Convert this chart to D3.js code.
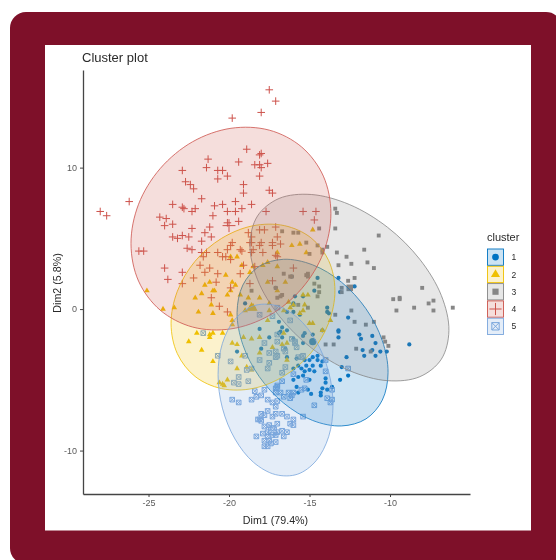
<!doctype html>
<meta charset="utf-8">
<style>
html, body { margin: 0; padding: 0; background: #fff; overflow: hidden; }
text { font-family: "Liberation Sans", Arial, sans-serif; }
</style>
<script src="https://d3js.org/d3.v7.min.js"></script>
<body>
<script>

var w = 556, h = 560;

var clusters = ["1", "2", "3", "4", "5"];
var colors = ["#0073C2", "#EFC000", "#868686", "#CD534C", "#7AA6DC"];
var xTicks = [-25, -20, -15, -10];
var yTicks = [-10, 0, 10];

// points, [Dim1, Dim2]
var points1 = [[-14.5,2.2],[-13.2,2.2],[-12.2,1.6],[-13.1,1.2],[-14.7,1.3],[-15.4,0.9],[-16,0.3],[-13.9,0.1],[-13.9,-0.2],[-13.8,-0.3],[-12.6,-0.6],[-13.2,-1.5],[-13.2,-1.6],[-13.2,-2],[-14.2,-1.5],[-11.9,-1.8],[-11.8,-2.1],[-11.1,-1.9],[-10.9,-2.4],[-8.8,-2.5],[-11.7,-2.9],[-11.1,-2.9],[-10.6,-3],[-10.2,-3],[-11.6,-3.3],[-10.9,-3.3],[-12.7,-3.4],[-15.3,-1.7],[-14.8,-1.8],[-15.4,-1.9],[-16,-2.1],[-16.4,-1.5],[-16.8,-1.6],[-16.7,-2],[-18.1,-1.4],[-17.5,-2],[-18,-2.8],[-15.4,-2.4],[-16.5,-2.8],[-13.1,-5],[-12.6,-4.7],[-13,-4.1],[-16.4,-0.2],[-16,-0.2],[-15.6,-0.4],[-16.9,-0.9],[-17.1,1.5],[-16.1,2.3],[-15.9,0.9],[-14.8,-3.4],[-15,-3.6],[-14.5,-3.6],[-15.2,-4],[-14.8,-4],[-14.3,-4],[-15.5,-4.2],[-15.3,-4.4],[-15.4,-4.7],[-15,-4.3],[-14.7,-4.4],[-15.7,-4],[-16,-4.2],[-15.7,-4.8],[-16,-5],[-15,-5],[-14,-4.9],[-14,-5.2],[-13.6,-5.5],[-14.2,-5.6],[-14.3,-5.9],[-13.9,-5.7],[-14.3,-6.1],[-14.9,-6],[-15.1,-5.7],[-15.7,-5.9],[-15.8,-5.5],[-15.3,-3.6],[-14.2,-3.7],[-14.5,-3.3],[-19.5,-3],[-19,0.4],[-16.9,-1.7],[-16.7,-1.3],[-16,0.4],[-16.4,-3.4],[-15.8,-3.5]];
var points2 = [[-16.1,4.5],[-15.6,4.6],[-14.8,5.6],[-19.9,3.7],[-19.5,3.7],[-20.2,2.4],[-19.2,3.1],[-18.7,2.6],[-19.8,1.9],[-19.6,1.7],[-21.2,1.9],[-21.5,1.7],[-20.9,1.3],[-21,1.3],[-21.7,1.1],[-22.1,0.8],[-19.9,1.3],[-19.3,1],[-20.1,1],[-18.8,0.8],[-21.1,0.3],[-21.9,-0.2],[-21,-0.3],[-19.9,-0.4],[-18.5,0.2],[-18.7,0],[-18.4,0],[-19,-0.1],[-23.4,0.1],[-24.1,0],[-17.6,3.3],[-17.9,3.1],[-17,3],[-17.6,1.9],[-17,1.3],[-16.5,1.9],[-17.5,0.4],[-16.2,0.1],[-15.4,-0.1],[-16.6,-0.1],[-18.1,0.8],[-18.5,3],[-15.2,4],[-17,4],[-19.8,-0.8],[-19.8,-1.1],[-15.4,1],[-15.1,1],[-16.3,0.5],[-16,0.3],[-14.8,-1],[-13.7,-0.8],[-14.2,-1.5],[-15.3,0.3],[-21.7,-2.9],[-21,-3.7],[-22.5,-2.3],[-22,-1.7],[-21.2,-1.8],[-21,-1.7],[-20.4,-1.7],[-21.2,-2],[-19.5,-4.2],[-20.1,-5],[-20.4,-5.3],[-20.6,-5.2],[-20.3,-5.4],[-19.8,-2.4],[-19.1,-2],[-18.6,-2.1],[-18.1,-2],[-18.1,-3.1],[-16.7,-2.5],[-16.4,-2.4],[-17.3,-2.7],[-18.9,-4.1],[-18.6,-4.3],[-17.6,-0.8],[-16.6,-1.7],[-15,-1],[-17.5,-0.1],[-15.6,-0.3],[-19.2,-3.3],[-16.4,-3.6],[-19.5,-2.5],[-25.1,1.3]];
var points3 = [[-13.4,7.1],[-13.3,6.8],[-13.4,5.7],[-14.4,5.7],[-10.7,5.2],[-11.6,4.2],[-12.7,3.7],[-13.3,4],[-12.4,3.2],[-11.4,3.3],[-13.2,3.1],[-11,2.9],[-13.9,4.4],[-14.5,4.5],[-14.2,4.2],[-15,3.9],[-15.2,4.7],[-16,5.4],[-15.7,5.4],[-16.7,5.5],[-14.2,4],[-8,1.5],[-9.8,0.7],[-9.4,0.8],[-9.4,0.7],[-9.6,-0.1],[-8.5,0.1],[-7.3,0.6],[-7.6,0.4],[-7.3,-0.1],[-6.1,0.1],[-12.6,2],[-12.2,2.2],[-13,1.5],[-13,1.2],[-14.4,1.6],[-14.7,1.8],[-14.4,1.2],[-14.5,0.9],[-15.1,0.1],[-15.7,0.3],[-12.4,-0.1],[-13.4,-0.4],[-12.2,-0.9],[-11.5,-1.1],[-11,-0.9],[-14,-2.5],[-13.5,-2.5],[-12.1,-2.8],[-11.2,-3],[-10.4,-2],[-10.3,-2.3],[-10.1,-2.6],[-15.1,2.5],[-15.1,2.3],[-16.1,2.3],[-17.1,1.5],[-16.7,1],[-17,0.8],[-16.8,0.9],[-16.6,2.5],[-15.2,2.4],[-16.2,2.3],[-18.6,1.3]];
var points4 = [[-17.5,15.5],[-17.1,14.7],[-18,13.9],[-19.8,13.5],[-18.9,11.3],[-18,11],[-18.1,10.9],[-21.3,10.6],[-19.4,10.4],[-22.9,9.8],[-21.4,10],[-18.4,10.2],[-18.1,10.2],[-18,10],[-17.6,10.3],[-20.4,9.8],[-20.7,9.8],[-20.1,9.4],[-20.7,9.2],[-18.1,9.4],[-22.7,9],[-22.4,8.8],[-22.2,8.5],[-19.1,8.8],[-19.1,8.2],[-17.5,8.4],[-17.3,8.2],[-21.7,7.8],[-19.6,7.6],[-26.2,7.6],[-28,6.9],[-27.6,6.6],[-23.5,7.4],[-22.9,7.2],[-22.8,7.1],[-22.1,7.1],[-22.3,6.9],[-20.9,7.3],[-20.4,7.4],[-20.1,6.9],[-19.6,6.9],[-19.2,7.1],[-18.6,7.4],[-17.7,6.9],[-21,6.6],[-24.3,6.5],[-23.9,6.4],[-24,5.9],[-23.5,6],[-20.1,6.1],[-19.4,6.2],[-22.3,5.7],[-21.2,5.8],[-21.5,5.4],[-23.5,5.1],[-23.2,5],[-22.9,5.2],[-22.5,5.1],[-21.1,5.1],[-21.7,4.8],[-22.6,4.3],[-22.3,4.2],[-25.6,4.1],[-25.3,4.1],[-21.7,4],[-21.4,4],[-20.7,4],[-19.8,4.7],[-20.1,4.2],[-19.2,4.1],[-18.6,4.7],[-18.1,5.6],[-17.8,5.6],[-18.8,5.4],[-20.4,3.7],[-19.9,3.5],[-21.6,3.7],[-21.8,3.1],[-24,2.9],[-22.9,2.6],[-23.8,2.1],[-21.5,2.6],[-21.2,2.9],[-20.7,2.5],[-22.2,2.2],[-19.1,3.1],[-18.5,4.2],[-18.6,5.1],[-18,4.7],[-17.3,4.5],[-17.9,4],[-17,3.7],[-15.4,6.9],[-14.6,6.9],[-14.7,6.3],[-17.1,5.8],[-17,5.1],[-17.3,4.7],[-16.8,4.6],[-18.7,4.7],[-18.1,4.5],[-18.6,4],[-17.1,3.8],[-19.3,4.2],[-20.2,3.7],[-19.9,4.5],[-16,2.9],[-19.3,2.5],[-18.4,3],[-17.3,2],[-18.7,1.8],[-22.9,1.8],[-19.9,1.5],[-20.8,1.9],[-21.1,0.8],[-20.6,0.2],[-20.1,-0.2]];
var points5 = [[-21.6,-1.7],[-20.7,-3.3],[-19.9,-3.7],[-18.9,-4.3],[-18.6,-4.2],[-19.4,-4.8],[-19.7,-5.2],[-19.4,-5.3],[-18.8,-5.1],[-19.8,-6.4],[-19.4,-6.6],[-18.6,-6.4],[-18.3,-6.2],[-18,-6.1],[-18.4,-5.8],[-17.8,-5.7],[-17.6,-6.4],[-17.1,-5.6],[-17,-5.5],[-17.1,-5.9],[-16.8,-5.9],[-16.7,-5.1],[-17,-5.4],[-16.6,-6.2],[-16.3,-5.9],[-16.1,-6.1],[-16,-5.9],[-16.2,-6.3],[-16,-4.6],[-15.2,-5],[-15.3,-5.6],[-15.5,-5.7],[-13.6,-5.7],[-13.9,-6.3],[-13.6,-6.4],[-13.7,-6.6],[-14.7,-6.8],[-15.4,-7.6],[-17.1,-6.9],[-17.3,-6.6],[-17,-6.5],[-17.6,-7.2],[-18,-7.4],[-17.1,-7.4],[-17.8,-7.5],[-18.1,-7.8],[-18.2,-7.8],[-17.3,-7.6],[-16.7,-7.4],[-16.4,-7.6],[-16,-7.8],[-16.2,-8.1],[-16,-8.2],[-18,-7.9],[-18.3,-9],[-17.8,-8.3],[-17.5,-8.2],[-17,-8.1],[-17.6,-8.7],[-17.3,-8.4],[-17,-8.7],[-16.7,-8.6],[-16.4,-8.7],[-16.6,-9],[-17.9,-8.8],[-17.6,-9],[-17.3,-8.9],[-17.1,-8.9],[-17.8,-9.3],[-17.5,-9.3],[-17.1,-9.4],[-17.8,-9.7],[-17.6,-9.7],[-17.4,-9.5],[-18.1,-0.4],[-19,-3.3],[-18.1,-3.6],[-17.6,-4.2],[-17.5,-3.1],[-17.1,-3],[-17,-3.3],[-17,-2.3],[-17.8,-2.4],[-16.6,-2.8],[-16.5,-3],[-16.1,-2.1],[-15.9,-2.3],[-15.8,-2.7],[-15.7,-3.4],[-15.4,-3.3],[-16.5,-4.1],[-16.7,-4.5],[-17.5,-3.8],[-17.1,-3.4],[-12.6,-4.2],[-14,-3.6],[-14,-4.4],[-15.5,-3.4],[-17,-1.8],[-15.9,-2.4],[-17,0.1],[-17.3,-0.5],[-16.2,-0.8]];

// larger cluster centres
var centers = [[-14.8,-2.3],[-18.6,0.1],[-12.5,1.5],[-20,5.9],[-17.3,-8.6]];

// ellipse outlines
var hull1 = [[-10.12,-4.49],[-10.48,-2.22],[-11.49,0.02],[-13.01,1.9],[-14.81,3.13],[-16.61,3.52],[-18.13,3.02],[-19.14,1.7],[-19.5,-0.25],[-19.14,-2.52],[-18.13,-4.76],[-16.61,-6.64],[-14.81,-7.87],[-13.01,-8.26],[-11.49,-7.76],[-10.48,-6.44]];
var hull2 = [[-13.42,1.31],[-13.81,3.43],[-14.91,5.04],[-16.56,5.9],[-18.51,5.89],[-20.46,5],[-22.11,3.38],[-23.21,1.26],[-23.6,-1.03],[-23.21,-3.15],[-22.11,-4.76],[-20.46,-5.62],[-18.51,-5.61],[-16.56,-4.72],[-14.91,-3.1],[-13.81,-0.98]];
var hull3 = [[-6.34,-1.52],[-6.81,0.96],[-8.15,3.52],[-10.15,5.78],[-12.52,7.39],[-14.89,8.1],[-16.89,7.82],[-18.23,6.58],[-18.7,4.56],[-18.23,2.08],[-16.89,-0.48],[-14.89,-2.74],[-12.52,-4.35],[-10.15,-5.06],[-8.15,-4.78],[-6.81,-3.54]];
var hull4 = [[-13.67,6.77],[-14.14,9.4],[-15.49,11.46],[-17.5,12.65],[-19.88,12.78],[-22.26,11.83],[-24.27,9.94],[-25.62,7.41],[-26.09,4.62],[-25.62,1.98],[-24.27,-0.08],[-22.26,-1.27],[-19.88,-1.4],[-17.5,-0.45],[-15.49,1.44],[-14.14,3.97]];
var hull5 = [[-13.54,-6.81],[-13.81,-4.44],[-14.59,-2.26],[-15.74,-0.61],[-17.11,0.26],[-18.48,0.23],[-19.63,-0.72],[-20.41,-2.42],[-20.68,-4.63],[-20.41,-7],[-19.63,-9.18],[-18.48,-10.83],[-17.11,-11.7],[-15.74,-11.67],[-14.59,-10.72],[-13.81,-9.02]];

var allPoints = [points1, points2, points3, points4, points5];
var allHulls = [hull1, hull2, hull3, hull4, hull5];

var svg = d3.select("body")
  .append("svg")
    .attr("width", w)
    .attr("height", h)
    .style("display", "block");

// the reference is a soft upscaled screenshot
svg.append("defs").append("filter")
    .attr("id", "soft")
    .attr("filterUnits", "userSpaceOnUse")
    .attr("x", 0).attr("y", 0).attr("width", w).attr("height", h)
  .append("feGaussianBlur")
    .attr("stdDeviation", 0.5);

// card
svg.append("rect")
    .attr("x", 10).attr("y", 12)
    .attr("width", 552).attr("height", 552)
    .attr("rx", 16)
    .style("fill", "#7e1029");
svg.append("rect")
    .attr("x", 45).attr("y", 45)
    .attr("width", 486).attr("height", 485.5)
    .style("fill", "#fff");

var chart = svg.append("g").attr("filter", "url(#soft)");

var x = d3.scaleLinear().domain([-29.07, -5.03]).range([83, 470]);
var y = d3.scaleLinear().domain([-13.07, 16.9]).range([494, 70]);

var symbols = [d3.symbolCircle, d3.symbolTriangle, d3.symbolSquare];

// draw one marker in its cluster style
function marker(sel, i, scale) {
  var c = colors[i];
  if (i < 3) {
    var area = [14, 14, 15][i] * scale * scale;
    sel.append("path")
        .attr("d", d3.symbol().type(symbols[i]).size(area))
        .style("fill", c);
  } else if (i == 3) {
    var s = 3.8 * scale;
    sel.append("path")
        .attr("d", "M" + -s + ",0H" + s + "M0," + -s + "V" + s)
        .style("fill", "none")
        .style("stroke", c)
        .style("stroke-width", 1);
  } else {
    var s = 2.3 * scale;
    sel.append("path")
        .attr("d", "M" + -s + "," + -s + "H" + s + "V" + s + "H" + -s + "Z"
          + "M" + -s + "," + -s + "L" + s + "," + s + "M" + s + "," + -s + "L" + -s + "," + s)
        .style("fill", "none")
        .style("stroke", c)
        .style("stroke-width", 1);
  }
}

// points first, the ellipses sit on top of them
allPoints.forEach(function(pts, i) {
  var g = chart.append("g");
  g.selectAll("g")
      .data(pts)
    .enter().append("g")
      .attr("transform", function(d) { return "translate(" + x(d[0]) + "," + y(d[1]) + ")"; })
      .each(function() { marker(d3.select(this), i, 1); });
  g.append("g")
      .attr("transform", "translate(" + x(centers[i][0]) + "," + y(centers[i][1]) + ")")
      .call(marker, i, 1.7);
});

var hullLine = d3.line()
    .x(function(d) { return x(d[0]); })
    .y(function(d) { return y(d[1]); })
    .curve(d3.curveCatmullRomClosed);

chart.selectAll(".hull")
    .data(allHulls)
  .enter().append("path")
    .attr("class", "hull")
    .attr("d", hullLine)
    .style("fill", function(d, i) { return colors[i]; })
    .style("fill-opacity", 0.2)
    .style("stroke", function(d, i) { return colors[i]; })
    .style("stroke-width", 0.8);

// axes, hyphen not the unicode minus
var xAxis = chart.append("g")
    .attr("transform", "translate(0,494)")
    .call(d3.axisBottom(x).tickValues(xTicks).tickFormat(String).tickSize(3).tickPadding(3).tickSizeOuter(0));
var yAxis = chart.append("g")
    .attr("transform", "translate(83,0)")
    .call(d3.axisLeft(y).tickValues(yTicks).tickFormat(String).tickSize(3).tickPadding(3).tickSizeOuter(0));

[xAxis, yAxis].forEach(function(a) {
  a.select(".domain").style("stroke", "#444").style("stroke-width", 1.3);
  a.selectAll(".tick line").style("stroke", "#444");
  a.selectAll("text")
      .style("fill", "#5a5a5a")
      .style("font-size", "9px")
      .style("font-family", "'Liberation Sans', Arial, sans-serif");
});

chart.append("text")
    .attr("x", 82).attr("y", 62)
    .style("font-size", "13px")
    .style("fill", "#2a2a2a")
    .text("Cluster plot");

chart.append("text")
    .attr("x", 275.5).attr("y", 524)
    .attr("text-anchor", "middle")
    .style("font-size", "10.7px")
    .style("fill", "#2a2a2a")
    .text("Dim1 (79.4%)");

chart.append("text")
    .attr("transform", "translate(61,283) rotate(-90)")
    .attr("text-anchor", "middle")
    .style("font-size", "10.7px")
    .style("fill", "#2a2a2a")
    .text("Dim2 (5.8%)");

// legend
chart.append("text")
    .attr("x", 487).attr("y", 241)
    .style("font-size", "11px")
    .style("fill", "#2a2a2a")
    .text("cluster");

var legend = chart.selectAll(".key")
    .data(clusters)
  .enter().append("g")
    .attr("class", "key")
    .attr("transform", function(d, i) { return "translate(487," + (248.5 + i * 17.3) + ")"; });

legend.append("rect")
    .attr("x", 0.5).attr("y", 0.5)
    .attr("width", 16).attr("height", 16.3)
    .style("fill", function(d, i) { return colors[i]; })
    .style("fill-opacity", 0.2)
    .style("stroke", function(d, i) { return colors[i]; })
    .style("stroke-width", 0.9);

legend.append("g")
    .attr("transform", "translate(8.5,8.6)")
    .each(function(d, i) { marker(d3.select(this), i, 1.6); });

legend.append("text")
    .attr("x", 24.5).attr("y", 11.8)
    .style("font-size", "8.5px")
    .style("fill", "#2a2a2a")
    .text(function(d) { return d; });

</script>
